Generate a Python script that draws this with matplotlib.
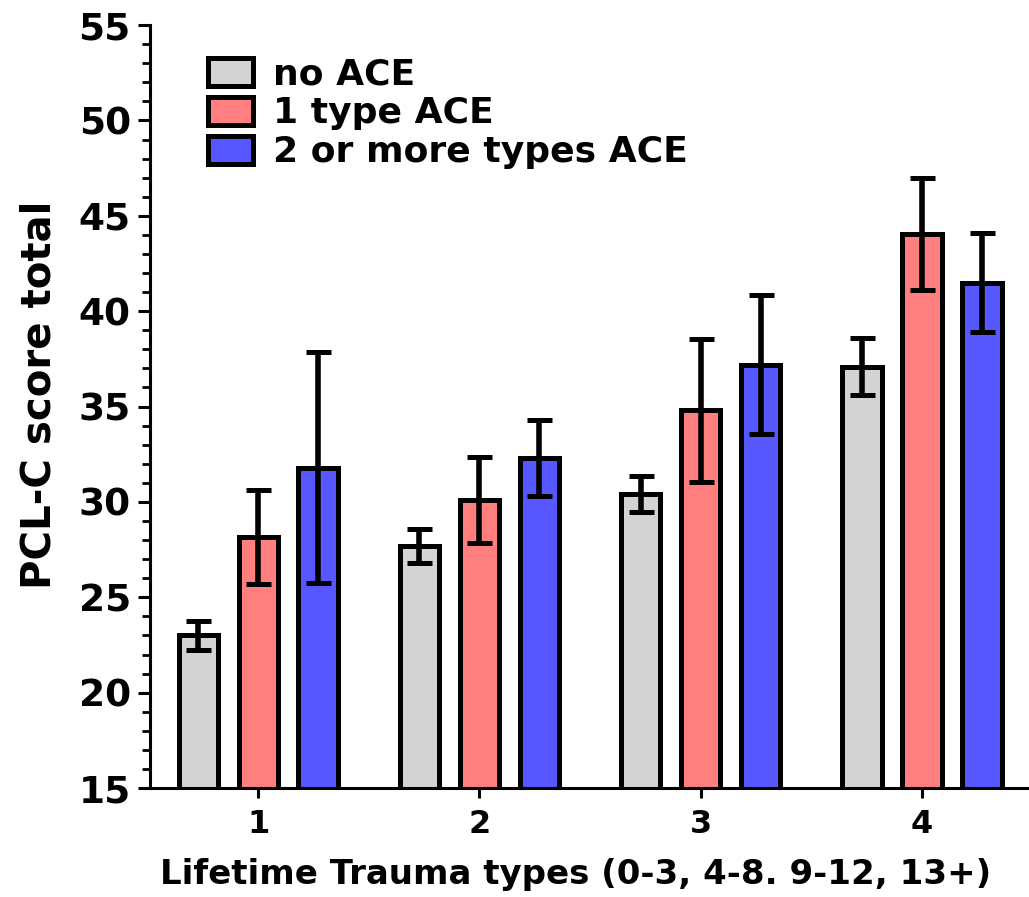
"""Bar chart of PCL-C score by lifetime trauma types and ACE group."""

import matplotlib.pyplot as plt
import numpy as np
from matplotlib.ticker import MultipleLocator

plt.rcParams["font.family"] = ["DejaVu Sans"]
plt.rcParams["font.weight"] = "bold"

groups = ["1", "2", "3", "4"]
series = ["no ACE", "1 type ACE", "2 or more types ACE"]
colors = ["#d3d3d3", "#ff7f7f", "#5757ff"]

no_ace = [23.0, 27.7, 30.4, 37.1]
no_ace_err = [0.75, 0.9, 0.95, 1.5]
one_ace = [28.15, 30.1, 34.8, 44.05]
one_ace_err = [2.45, 2.25, 3.75, 2.95]
two_ace = [31.8, 32.3, 37.2, 41.5]
two_ace_err = [6.05, 2.0, 3.65, 2.6]


def plot_bars() -> None:
    """Draw the grouped bar chart."""

    fig = plt.figure(figsize=(10.29, 8.97), dpi=100)
    ax = fig.add_axes([0.146, 0.1215, 0.854, 0.8505])

    x = np.arange(1, len(groups) + 1)
    width = 0.178
    step = 0.271
    values = [no_ace, one_ace, two_ace]
    errors = [no_ace_err, one_ace_err, two_ace_err]

    for index, (vals, errs) in enumerate(zip(values, errors)):
        ax.bar(
            x + (index - 1) * step,
            vals,
            width,
            yerr=errs,
            color=colors[index],
            edgecolor="black",
            linewidth=3.6,
            label=series[index],
            error_kw={"elinewidth": 4, "capsize": 9, "capthick": 3.6, "ecolor": "black"},
            zorder=2,
        )

    ax.set_xlim(0.512, 4.484)
    ax.set_ylim(15, 55)
    ax.set_xticks(x)
    ax.set_xticklabels(groups)
    ax.yaxis.set_major_locator(MultipleLocator(5))
    ax.yaxis.set_minor_locator(MultipleLocator(1))

    for side in ["top", "right"]:
        ax.spines[side].set_visible(False)
    ax.spines["left"].set_linewidth(2.2)
    ax.spines["bottom"].set_linewidth(2.2)

    ax.tick_params(axis="y", which="major", labelsize=27, width=2.2, length=9, pad=5)
    ax.tick_params(axis="y", which="minor", width=2, length=6)
    ax.tick_params(axis="x", which="major", labelsize=23, width=2.2, length=7, pad=8)

    ax.set_ylabel("PCL-C score total", fontsize=29, fontweight="bold")
    ax.yaxis.set_label_coords(-0.1035, 0.515)
    ax.set_xlabel(
        "Lifetime Trauma types (0-3, 4-8. 9-12, 13+)", fontsize=24.5, fontweight="bold"
    )
    ax.xaxis.set_label_coords(0.4835, -0.0917)

    legend = ax.legend(
        loc="upper left",
        bbox_to_anchor=(0.066, 0.958),
        borderaxespad=0,
        borderpad=0,
        frameon=False,
        fontsize=26,
        handlelength=1.25,
        handleheight=0.82,
        handletextpad=0.55,
        labelspacing=0.14,
    )
    for patch in legend.get_patches():
        patch.set_linewidth(3.6)

    fig.savefig("out.png", dpi=100)


if __name__ == "__main__":
    plot_bars()
